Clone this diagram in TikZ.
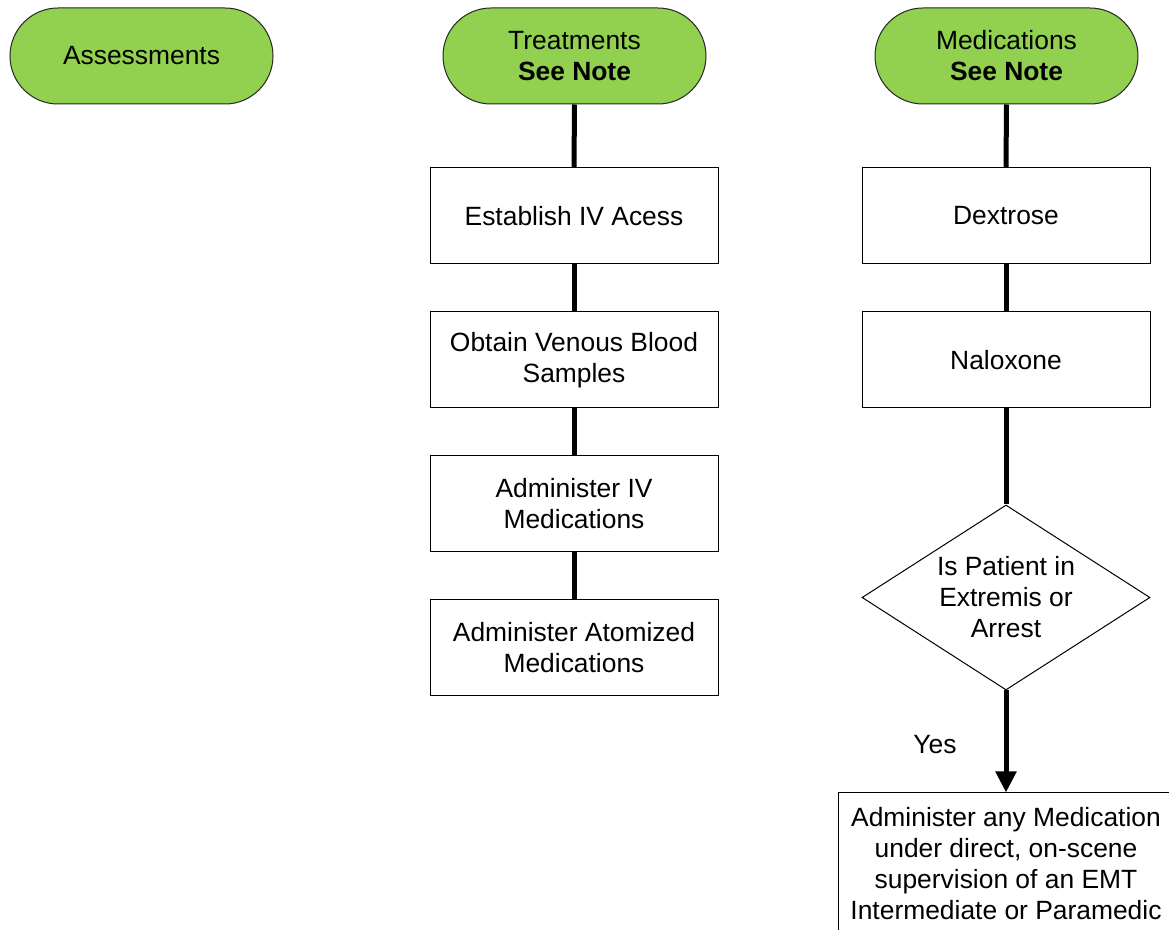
\documentclass[tikz,border=0pt]{standalone}
\usepackage{fontspec}
\setmainfont{Liberation Sans}
\usetikzlibrary{arrows.meta,shapes.geometric}
\definecolor{termgreen}{HTML}{92D050}
\begin{document}
\begin{tikzpicture}[x=0.5pt,y=-0.5pt,
  every node/.style={font=\fontsize{13.2pt}{15.5pt}\selectfont, align=center, inner sep=0pt},
  term/.style={draw=black!85, line width=0.5pt, fill=termgreen, rectangle, rounded corners=24pt,
    minimum width=131.5pt, minimum height=48pt},
  stepbox/.style={draw, line width=0.5pt, rectangle, fill=white, minimum width=144pt, minimum height=48pt},
  decision/.style={draw, line width=0.5pt, diamond, aspect=1.557, fill=white,
    minimum width=144pt, minimum height=92.5pt},
  link/.style={line width=2.5pt, line cap=butt}
]
\clip (0,0) rectangle (1169,930);
\fill[white] (0,0) rectangle (1169,930);

% column headers
\node[term] (assess) at (141.5,56) {Assessments};
\node[term] (treat) at (574.5,56) {Treatments\\\textbf{See Note}};
\node[term] (meds) at (1006.5,56) {Medications\\\textbf{See Note}};

% treatments column
\node[stepbox] (iv) at (574,216) {Establish IV Acess};
\node[stepbox] (blood) at (574,360) {Obtain Venous Blood\\Samples};
\node[stepbox] (ivmed) at (574,504) {Administer IV\\Medications};
\node[stepbox] (atom) at (574,648) {Administer Atomized\\Medications};

% medications column
\node[stepbox] (dex) at (1006,216) {Dextrose};
\node[stepbox] (nal) at (1006,360) {Naloxone};
\node[decision] (arrest) at (1006,597.5) {Is Patient in\\Extremis or\\Arrest};
\node[draw, line width=0.5pt, rectangle, minimum width=168pt, minimum height=71pt] (super) at (1006,864)
  {Administer any Medication\\under direct, on-scene\\supervision of an EMT\\Intermediate or Paramedic};

% connectors
\draw[link] (treat.south) -- (iv.north);
\draw[link] (iv.south) -- (blood.north);
\draw[link] (blood.south) -- (ivmed.north);
\draw[link] (ivmed.south) -- (atom.north);
\draw[link] (meds.south) -- (dex.north);
\draw[link] (dex.south) -- (nal.north);
\draw[link] (nal.south) -- (arrest.north);
\draw[link, -{Triangle[length=10.5pt,width=10pt]}] (arrest.south) -- (super.north);
\node (yes) at (935,745) {Yes};
\end{tikzpicture}
\end{document}
